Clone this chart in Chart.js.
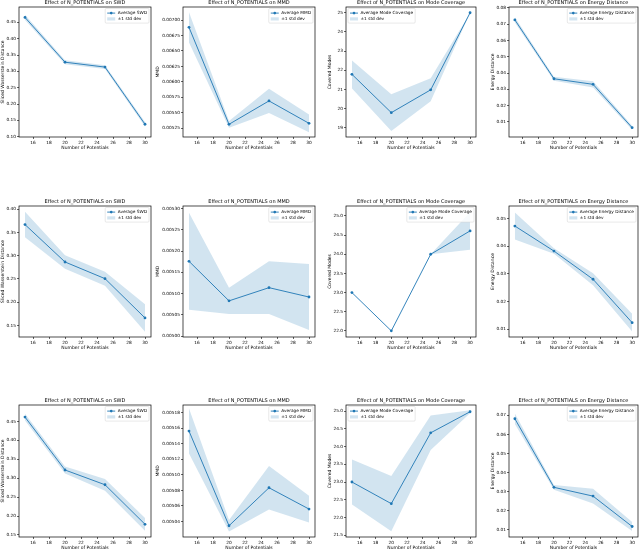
<!DOCTYPE html>
<html>
<head>
<meta charset="utf-8">
<script src="https://cdn.jsdelivr.net/npm/chart.js@4.4.0/dist/chart.umd.min.js"></script>
<style>
  body { margin: 0; background: #fff; width: 640px; height: 550px; overflow: hidden; position: relative; }
  canvas { position: absolute; }
</style>
</head>
<body>
<script>
const nPotentials = [15, 20, 25, 30];
const xTicks = [16, 18, 20, 22, 24, 26, 28, 30];

// row 1
const swdA = [0.465, 0.328, 0.313, 0.138];
const swdAStd = [0.008, 0.006, 0.006, 0.007];
const mmdA = [0.006881, 0.005315, 0.005693, 0.005331];
const mmdAStd = [0.000243, 0.000054, 0.000197, 0.000143];
const modeA = [21.79, 19.79, 20.98, 25.0];
const modeAStd = [0.73, 0.96, 0.60, 0.0];
const energyA = [0.0726, 0.0365, 0.0331, 0.0065];
const energyAStd = [0.0016, 0.0012, 0.0019, 0.0012];

// row 2
const swdB = [0.367, 0.2865, 0.2506, 0.166];
const swdBStd = [0.0275, 0.0145, 0.0151, 0.0295];
const mmdB = [0.005176, 0.005083, 0.005114, 0.005092];
const mmdBStd = [0.000114, 0.000031, 0.000062, 0.0000775];
const modeB = [23.0, 22.0, 24.0, 24.61];
const modeBStd = [0, 0, 0, 0.49];
const energyB = [0.04735, 0.0383, 0.0281, 0.0124];
const energyBStd = [0.0049, 0.001, 0.0022, 0.0032];

// row 3
const swdC = [0.4615, 0.3217, 0.2827, 0.1783];
const swdCStd = [0.009, 0.009, 0.0155, 0.0168];
const mmdC = [0.0051564, 0.0050345, 0.0050834, 0.0050560];
const mmdCStd = [0.000029, 0.0000074, 0.0000279, 0.0000172];
const modeC = [23.0, 22.39, 24.386, 24.98];
const modeCStd = [0.635, 0.78, 0.485, 0.04];
const energyC = [0.0682, 0.0323, 0.0277, 0.0118];
const energyCStd = [0.0028, 0.0012, 0.0038, 0.0024];

// y tick labels
const swdATicks = [0.10, 0.15, 0.20, 0.25, 0.30, 0.35, 0.40, 0.45];
const mmdATicks = [0.00525, 0.00550, 0.00575, 0.00600, 0.00625, 0.00650, 0.00675, 0.00700];
const modeATicks = [19, 20, 21, 22, 23, 24, 25];
const energyATicks = [0.01, 0.02, 0.03, 0.04, 0.05, 0.06, 0.07, 0.08];
const swdBTicks = [0.15, 0.20, 0.25, 0.30, 0.35, 0.40];
const mmdBTicks = [0.00500, 0.00505, 0.00510, 0.00515, 0.00520, 0.00525, 0.00530];
const modeBTicks = [22.0, 22.5, 23.0, 23.5, 24.0, 24.5, 25.0];
const energyBTicks = [0.01, 0.02, 0.03, 0.04, 0.05];
const swdCTicks = [0.15, 0.20, 0.25, 0.30, 0.35, 0.40, 0.45];
const mmdCTicks = [0.00504, 0.00506, 0.00508, 0.00510, 0.00512, 0.00514, 0.00516, 0.00518];
const modeCTicks = [21.5, 22.0, 22.5, 23.0, 23.5, 24.0, 24.5, 25.0];
const energyCTicks = [0.01, 0.02, 0.03, 0.04, 0.05, 0.06, 0.07];

const BLUE = '#1f77b4';
const BAND = 'rgba(31,119,180,0.2)';
const FONT = 'DejaVu Sans';
Chart.defaults.font.family = FONT;
Chart.defaults.color = '#000';

const cols = [
  { canvasLeft: 0, plotLeft: 19, plotRight: 151 },
  { canvasLeft: 155, plotLeft: 183, plotRight: 315 },
  { canvasLeft: 327, plotLeft: 346, plotRight: 476 },
  { canvasLeft: 490, plotLeft: 509, plotRight: 638 }
];
const rows = [
  { plotTop: 7, plotBottom: 137 },
  { plotTop: 206, plotBottom: 337 },
  { plotTop: 405, plotBottom: 537 }
];
const padTop = 7, xAxisH = 14, padRight = 6;

const metrics = [
  { key: 'SWD', ylabel: 'Sliced Wasserstein Distance', legend: 'Average SWD', dec: 2 },
  { key: 'MMD', ylabel: 'MMD', legend: 'Average MMD', dec: 5 },
  { key: 'Mode Coverage', ylabel: 'Covered Modes', legend: 'Average Mode Coverage', dec: 1 },
  { key: 'Energy Distance', ylabel: 'Energy Distance', legend: 'Average Energy Distance', dec: 2 }
];

const panels = [
  // row, col, mean, std, ticks, min, max, legend on left
  [0, 0, swdA, swdAStd, swdATicks, 0.099, 0.497, false, 2],
  [0, 1, mmdA, mmdAStd, mmdATicks, 0.00511, 0.00721, false, 5],
  [0, 2, modeA, modeAStd, modeATicks, 18.52, 25.3, true, 0],
  [0, 3, energyA, energyAStd, energyATicks, 0.0008, 0.0805, false, 2],
  [1, 0, swdB, swdBStd, swdBTicks, 0.125, 0.407, false, 2],
  [1, 1, mmdB, mmdBStd, mmdBTicks, 0.004998, 0.005306, false, 5],
  [1, 2, modeB, modeBStd, modeBTicks, 21.84, 25.26, false, 1],
  [1, 3, energyB, energyBStd, energyBTicks, 0.0072, 0.0546, false, 2],
  [2, 0, swdC, swdCStd, swdCTicks, 0.1447, 0.4934, false, 2],
  [2, 1, mmdC, mmdCStd, mmdCTicks, 0.00502, 0.00519, false, 5],
  [2, 2, modeC, modeCStd, modeCTicks, 21.45, 25.17, true, 1],
  [2, 3, energyC, energyCStd, energyCTicks, 0.0063, 0.0754, false, 2]
];

// frame, title and in-axes legend, drawn like matplotlib
const decorations = {
  id: 'decorations',
  afterDraw(chart, args, o) {
    const { ctx, chartArea: a } = chart;
    ctx.save();
    ctx.strokeStyle = '#000';
    ctx.lineWidth = 0.7;
    ctx.strokeRect(a.left, a.top, a.right - a.left, a.bottom - a.top);

    ctx.fillStyle = '#000';
    ctx.font = '5px "' + FONT + '"';
    ctx.textAlign = 'center';
    ctx.textBaseline = 'middle';
    ctx.fillText(o.title, (a.left + a.right) / 2, a.top - 4.3);

    ctx.font = '4.3px "' + FONT + '"';
    const labels = [o.label, '\u00b11 std dev'];
    const tw = Math.max(...labels.map(t => ctx.measureText(t).width));
    const pad = 2, handle = 8, gap = 2.5, rowH = 5.8;
    const w = pad + handle + gap + tw + pad;
    const h = pad * 2 + rowH * 2 - 1;
    const x0 = o.left ? a.left + 2 : a.right - 2 - w;
    const y0 = a.top + 1.5;
    ctx.fillStyle = 'rgba(255,255,255,0.85)';
    ctx.strokeStyle = '#d0d0d0';
    ctx.lineWidth = 0.5;
    ctx.beginPath();
    ctx.roundRect(x0, y0, w, h, 1);
    ctx.fill();
    ctx.stroke();

    const r1 = y0 + pad + rowH / 2 - 0.3, r2 = r1 + rowH;
    ctx.strokeStyle = BLUE;
    ctx.lineWidth = 0.9;
    ctx.beginPath();
    ctx.moveTo(x0 + pad, r1);
    ctx.lineTo(x0 + pad + handle, r1);
    ctx.stroke();
    ctx.fillStyle = BLUE;
    ctx.beginPath();
    ctx.arc(x0 + pad + handle / 2, r1, 1.3, 0, Math.PI * 2);
    ctx.fill();
    ctx.fillStyle = BAND;
    ctx.fillRect(x0 + pad, r2 - 1.6, handle, 3.2);

    ctx.fillStyle = '#000';
    ctx.textAlign = 'left';
    ctx.fillText(labels[0], x0 + pad + handle + gap, r1);
    ctx.fillText(labels[1], x0 + pad + handle + gap, r2);
    ctx.restore();
  }
};

panels.forEach(([r, c, mean, std, ticks, yMin, yMax, legendLeft, dec]) => {
  const col = cols[c], row = rows[r], m = metrics[c];
  const yW = col.plotLeft - col.canvasLeft;
  const canvas = document.createElement('canvas');
  const W = yW + (col.plotRight - col.plotLeft) + padRight;
  const H = padTop + (row.plotBottom - row.plotTop) + xAxisH;
  canvas.width = W;
  canvas.height = H;
  canvas.style.left = col.canvasLeft + 'px';
  canvas.style.top = (row.plotTop - padTop) + 'px';
  document.body.appendChild(canvas);

  const line = nPotentials.map((x, i) => ({ x, y: mean[i] }));
  const upper = nPotentials.map((x, i) => ({ x, y: mean[i] + std[i] }));
  const lower = nPotentials.map((x, i) => ({ x, y: mean[i] - std[i] }));

  const tickFont = { size: 4.3, family: FONT };
  const titleFont = { size: 4.5, family: FONT };

  new Chart(canvas, {
    type: 'line',
    data: {
      datasets: [
        { data: line, borderColor: BLUE, borderWidth: 0.9, pointRadius: 1.4,
          pointBackgroundColor: BLUE, pointBorderWidth: 0, fill: false, tension: 0 },
        { data: upper, borderWidth: 0, pointRadius: 0, backgroundColor: BAND, fill: '+1' },
        { data: lower, borderWidth: 0, pointRadius: 0, fill: false }
      ]
    },
    options: {
      responsive: false,
      animation: false,
      events: [],
      layout: { padding: { top: padTop, right: padRight, left: 0, bottom: 0 } },
      plugins: {
        legend: { display: false },
        tooltip: { enabled: false },
        decorations: {
          title: 'Effect of N_POTENTIALS on ' + m.key,
          label: m.legend,
          left: legendLeft
        }
      },
      scales: {
        x: {
          type: 'linear', min: 14.25, max: 30.75,
          afterBuildTicks: s => { s.ticks = xTicks.map(v => ({ value: v })); },
          afterFit: s => { s.height = xAxisH; },
          ticks: { autoSkip: false, maxRotation: 0, font: tickFont, color: '#000', padding: 1,
                   callback: v => String(v) },
          grid: { drawOnChartArea: false, drawTicks: true, tickLength: 2, color: '#000', lineWidth: 0.6 },
          border: { display: false },
          title: { display: true, text: 'Number of Potentials', font: titleFont, padding: 0, color: '#000' }
        },
        y: {
          type: 'linear', min: yMin, max: yMax,
          afterBuildTicks: s => { s.ticks = ticks.map(v => ({ value: v })); },
          afterFit: s => { s.width = yW; },
          ticks: { autoSkip: false, font: tickFont, color: '#000', padding: 1,
                   callback: v => Number(v).toFixed(dec) },
          grid: { drawOnChartArea: false, drawTicks: true, tickLength: 2, color: '#000', lineWidth: 0.6 },
          border: { display: false },
          title: { display: true, text: m.ylabel, font: titleFont, padding: 0, color: '#000' }
        }
      }
    },
    plugins: [decorations]
  });
});
</script>
</body>
</html>
